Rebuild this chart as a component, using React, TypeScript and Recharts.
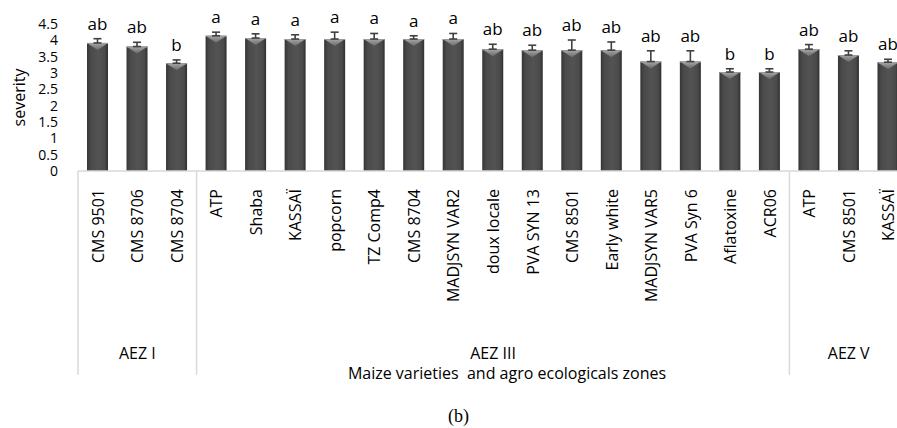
import React from 'react';
import { BarChart, Bar, XAxis, YAxis, ErrorBar, LabelList, Label } from 'recharts';

// ---- data ----
const varieties = [
  'CMS 9501', 'CMS 8706', 'CMS 8704',
  'ATP', 'Shaba', 'KASSAÏ', 'popcorn', 'TZ Comp4', 'CMS 8704', 'MADJSYN VAR2',
  'doux locale', 'PVA SYN 13', 'CMS 8501', 'Early white', 'MADJSYN VAR5', 'PVA Syn 6',
  'Aflatoxine', 'ACR06',
  'ATP', 'CMS 8501', 'KASSAÏ',
];
const severity = [
  3.92, 3.81, 3.30,
  4.14, 4.07, 4.04, 4.04, 4.04, 4.04, 4.04,
  3.73, 3.70, 3.70, 3.70, 3.35, 3.35,
  3.03, 3.03,
  3.73, 3.55, 3.33,
];
const stdErr = [
  0.13, 0.13, 0.10,
  0.11, 0.13, 0.13, 0.21, 0.17, 0.10, 0.17,
  0.15, 0.15, 0.31, 0.25, 0.33, 0.33,
  0.10, 0.10,
  0.14, 0.13, 0.09,
];
const letters = [
  'ab', 'ab', 'b',
  'a', 'a', 'a', 'a', 'a', 'a', 'a',
  'ab', 'ab', 'ab', 'ab', 'ab', 'ab',
  'b', 'b',
  'ab', 'ab', 'ab',
];
const zoneNames = ['AEZ I', 'AEZ III', 'AEZ V'];
const zoneSizes = [3, 15, 3];
const yTicks = [0, 0.5, 1, 1.5, 2, 2.5, 3, 3.5, 4, 4.5];
const yLabel = 'severity';
const xTitle = 'Maize varieties  and agro ecologicals zones';
const caption = '(b)';

const data = varieties.map((v, i) => ({
  variety: v,
  severity: severity[i],
  err: [0, stdErr[i]],
  letter: letters[i],
}));

const zoneStarts: number[] = [];
const zoneMiddles: number[] = [];
{
  let acc = 0;
  zoneSizes.forEach((s) => {
    zoneStarts.push(acc);
    zoneMiddles.push(acc + Math.floor(s / 2));
    acc += s;
  });
}

// ---- layout ----
const FONT = '"Open Sans", sans-serif';
const CHART_W = 908;
const CHART_H = 428;
const MARGIN = { top: 24, right: 0, left: 18, bottom: 47 };
const Y_W = 60;
const X_H = 210;
const BAND_HALF = (CHART_W - MARGIN.left - MARGIN.right - Y_W) / varieties.length / 2;
const GRID = '#d9d9d9';

function BevelBar(props: any) {
  const { x, y, width, height, index } = props;
  if (!height || height <= 0) return null;
  const gid = `bodyGrad${index}`;
  const tid = `topGrad${index}`;
  const tri = Math.min(7, height);
  return (
    <g>
      <defs>
        <linearGradient id={gid} x1="0" y1="0" x2="1" y2="0">
          <stop offset="0%" stopColor="#353535" />
          <stop offset="18%" stopColor="#4a4a4a" />
          <stop offset="55%" stopColor="#535353" />
          <stop offset="85%" stopColor="#4a4a4a" />
          <stop offset="100%" stopColor="#2f2f2f" />
        </linearGradient>
        <linearGradient id={tid} x1="0" y1="0" x2="0" y2="1">
          <stop offset="0%" stopColor="#a8a8a8" />
          <stop offset="100%" stopColor="#6a6a6a" />
        </linearGradient>
      </defs>
      <rect x={x} y={y} width={width} height={height} fill={`url(#${gid})`} />
      <polygon
        points={`${x},${y} ${x + width},${y} ${x + width / 2},${y + tri}`}
        fill={`url(#${tid})`}
      />
      <line x1={x} y1={y + 0.5} x2={x + width} y2={y + 0.5} stroke="#9a9a9a" strokeWidth={1} />
    </g>
  );
}

function LetterLabel(props: any) {
  const { x, y, width, height, index } = props;
  const v = severity[index];
  const e = stdErr[index];
  const pxPerUnit = v ? height / v : 0;
  const top = y - pxPerUnit * e - 9;
  return (
    <text
      x={x + width / 2}
      y={top}
      textAnchor="middle"
      fontFamily={FONT}
      fontSize={17}
      fill="#000"
    >
      {letters[index]}
    </text>
  );
}

function VarietyTick(props: any) {
  const { x, y, payload, index } = props;
  const i = typeof index === 'number' ? index : payload?.index ?? 0;
  const ty = y + 18;
  const parts: React.ReactNode[] = [];
  parts.push(
    <text
      key="t"
      x={x}
      y={ty}
      transform={`rotate(-90 ${x} ${ty})`}
      textAnchor="end"
      dominantBaseline="central"
      fontFamily={FONT}
      fontSize={16}
      fill="#000"
    >
      {payload.value}
    </text>
  );
  const zs = zoneStarts.indexOf(i);
  if (zs >= 0) {
    const lx = x - BAND_HALF;
    parts.push(<line key="l" x1={lx} y1={y} x2={lx} y2={y + 204} stroke={GRID} strokeWidth={1.5} />);
  }
  if (i === varieties.length - 1) {
    const lx = x + BAND_HALF;
    parts.push(<line key="r" x1={lx} y1={y} x2={lx} y2={y + 204} stroke={GRID} strokeWidth={1.5} />);
  }
  const zm = zoneMiddles.indexOf(i);
  if (zm >= 0) {
    parts.push(
      <text key="z" x={x} y={y + 188} textAnchor="middle" fontFamily={FONT} fontSize={16} fill="#000">
        {zoneNames[zm]}
      </text>
    );
  }
  return <g>{parts}</g>;
}

function TitleLabel(props: any) {
  const vb = props.viewBox || {};
  const cx = vb.x + vb.width / 2 + 14;
  return (
    <text
      x={cx}
      y={vb.y + 208}
      textAnchor="middle"
      fontFamily={FONT}
      fontSize={16}
      fill="#000"
      style={{ whiteSpace: 'pre' }}
    >
      {xTitle}
    </text>
  );
}

function SeverityLabel(props: any) {
  const vb = props.viewBox || {};
  const cx = vb.x + 1;
  const cy = vb.y + vb.height / 2;
  return (
    <text
      x={cx}
      y={cy}
      transform={`rotate(-90 ${cx} ${cy})`}
      textAnchor="middle"
      dominantBaseline="central"
      fontFamily={FONT}
      fontSize={16}
      fill="#000"
    >
      {yLabel}
    </text>
  );
}

export default function App() {
  return (
    <div
      style={{
        position: 'absolute',
        left: 0,
        top: 0,
        width: 897,
        height: 428,
        overflow: 'hidden',
        background: '#fff',
      }}
    >
      <BarChart width={CHART_W} height={CHART_H} data={data} margin={MARGIN}>
        <XAxis
          dataKey="variety"
          height={X_H}
          interval={0}
          axisLine={{ stroke: GRID, strokeWidth: 1.5 }}
          tickLine={false}
          tickSize={0}
          tickMargin={0}
          tick={<VarietyTick />}
        >
          <Label content={TitleLabel} />
        </XAxis>
        <YAxis
          width={Y_W}
          domain={[0, 4.5]}
          ticks={yTicks}
          interval={0}
          axisLine={false}
          tickLine={false}
          tickSize={0}
          tickMargin={20}
          tick={{ fontSize: 14, fill: '#000', fontFamily: FONT }}
        >
          <Label content={SeverityLabel} />
        </YAxis>
        <Bar dataKey="severity" barSize={21} shape={<BevelBar />} isAnimationActive={false}>
          <ErrorBar dataKey="err" direction="y" width={4} stroke="#404040" strokeWidth={1.6} />
          <LabelList dataKey="letter" content={LetterLabel} />
        </Bar>
      </BarChart>
      <div
        style={{
          position: 'absolute',
          left: 448,
          top: 406,
          fontFamily: '"Liberation Serif", "Times New Roman", serif',
          fontSize: 18,
          lineHeight: '20px',
          color: '#000',
        }}
      >
        {caption}
      </div>
    </div>
  );
}
